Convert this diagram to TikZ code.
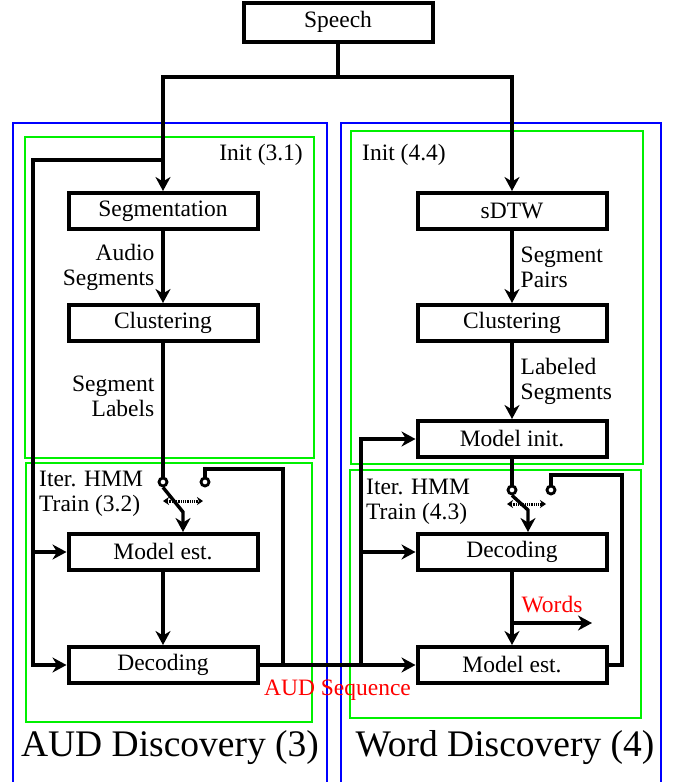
\documentclass[tikz,border=0pt]{standalone}
\usepackage{fontspec}
\setmainfont{Liberation Serif}
\usetikzlibrary{arrows.meta}
\usepackage{xcolor}
\definecolor{framegreen}{RGB}{0,240,0}

\begin{document}
\begin{tikzpicture}[x=1pt,y=-1pt,
    blk/.style={draw, line width=4pt, minimum width=189pt, minimum height=36pt, inner sep=0pt, font=\fontsize{23.5}{25}\selectfont},
    wire/.style={line width=3.4pt},
    arr/.style={wire, -{Stealth[length=14pt,width=15pt,inset=4.5pt]}},
    lbl/.style={font=\fontsize{23.5}{25}\selectfont, inner sep=0pt},
    contact/.style={draw, line width=2.8pt, fill=white, circle, inner sep=0pt, minimum size=8pt},
    toggle/.style={line width=3pt, dash pattern=on 1pt off 0.8pt, {Stealth[length=6pt,width=8pt]}-{Stealth[length=6pt,width=8pt]}},
    outer/.style={draw=blue, line width=2pt},
    inner/.style={draw=framegreen, line width=2pt}]
  \useasboundingbox (0,0) rectangle (678,782);

  % frames
  \draw[outer] (13,123) rectangle (327,800);
  \draw[outer] (341,123) rectangle (661,800);
  \draw[inner] (25,137) rectangle (314,458);
  \draw[inner] (26,463) rectangle (312,722);
  \draw[inner] (351,131) rectangle (643,464);
  \draw[inner] (350,470) rectangle (641,718);

  \node[lbl, anchor=base east] (initA) at (303,160) {Init (3.1)};
  \node[lbl, anchor=base west] (initB) at (362,160) {Init (4.4)};
  \node[lbl, anchor=north west, align=left] (iterA) at (39,471) {Iter. HMM\\Train (3.2)};
  \node[lbl, anchor=north west, align=left] (iterB) at (366,479) {Iter. HMM\\Train (4.3)};
  \node[font=\fontsize{37.5}{40}\selectfont, inner sep=0pt] (audD) at (170,748) {AUD Discovery (3)};
  \node[font=\fontsize{37.5}{40}\selectfont, inner sep=0pt] (wordD) at (505,748) {Word Discovery (4)};

  % blocks
  \node[blk, minimum height=39pt] (speech) at (338,22) {Speech};
  \node[blk] (seg) at (163,211) {Segmentation};
  \node[blk] (clusA) at (163,323) {Clustering};
  \node[blk] (modestA) at (163,552) {Model est.};
  \node[blk] (decA) at (163,665) {Decoding};
  \node[blk] (sdtw) at (512,211) {sDTW};
  \node[blk] (clusB) at (512,323) {Clustering};
  \node[blk] (modinit) at (512,439) {Model init.};
  \node[blk] (decB) at (512,552) {Decoding};
  \node[blk] (modestB) at (512,665) {Model est.};

  % switches
  \node[contact] (swA1) at (163,482) {};
  \node[contact] (swA2) at (205,482) {};
  \node[contact] (swB1) at (512,490) {};
  \node[contact] (swB2) at (551,490) {};
  \coordinate (levA) at (183,512);
  \coordinate (levB) at (528,510);
  \draw[toggle] (163,501) -- (203,501);
  \draw[toggle] (507,504) -- (546,504);

  \coordinate (split) at (338,77);
  \coordinate (fbA) at (163,160);
  \coordinate (cA) at (33,160);
  \coordinate (retA) at (283,665);
  \coordinate (topA) at (283,469);
  \coordinate (fbB) at (361,665);
  \coordinate (retB) at (622,665);
  \coordinate (topB) at (622,475);
  \coordinate (wd) at (512,623);
  \coordinate (wdend) at (592,623);

  % connectors
  \draw[wire] (speech.south) -- (split);
  \draw[arr] (split) -| (seg.north);
  \draw[arr] (split) -| (sdtw.north);
  \draw[arr] (fbA) -- (cA) |- (decA.west);
  \draw[arr] (cA |- modestA.west) -- (modestA.west);
  \draw[arr] (seg.south) -- (clusA.north) node[lbl, midway, left=7pt, align=right] {Audio\\Segments};
  \draw[wire] (clusA.south) -- (swA1.north) node[lbl, pos=0.4, left=7pt, align=right] {Segment\\Labels};
  \draw[arr] (swA1.south) -- (levA) -- (levA |- modestA.north);
  \draw[arr] (modestA) -- (decA);
  \draw[wire] (decA.east) -- (retA) -- (topA) -| (swA2.north);
  \draw[arr] (decA.east) -- (modestB.west) node[midway, below=13pt, inner sep=0pt, text=red, font=\fontsize{23.5}{25}\selectfont] {AUD Sequence};

  \draw[arr] (sdtw) -- (clusB) node[lbl, midway, right=7pt, align=left] {Segment\\Pairs};
  \draw[arr] (clusB) -- (modinit) node[lbl, midway, right=7pt, align=left] {Labeled\\Segments};
  \draw[arr] (fbB) |- (modinit.west);
  \draw[arr] (fbB |- decB.west) -- (decB.west);
  \draw[wire] (modinit.south) -- (swB1.north);
  \draw[arr] (swB1.south) -- (levB) -- (levB |- decB.north);
  \draw[arr] (decB) -- (modestB);
  \draw[arr] (wd) -- (wdend) node[midway, above=8pt, inner sep=0pt, text=red, font=\fontsize{23.5}{25}\selectfont] {Words};
  \draw[wire] (modestB.east) -- (retB) -- (topB) -| (swB2.north);
\end{tikzpicture}
\end{document}
